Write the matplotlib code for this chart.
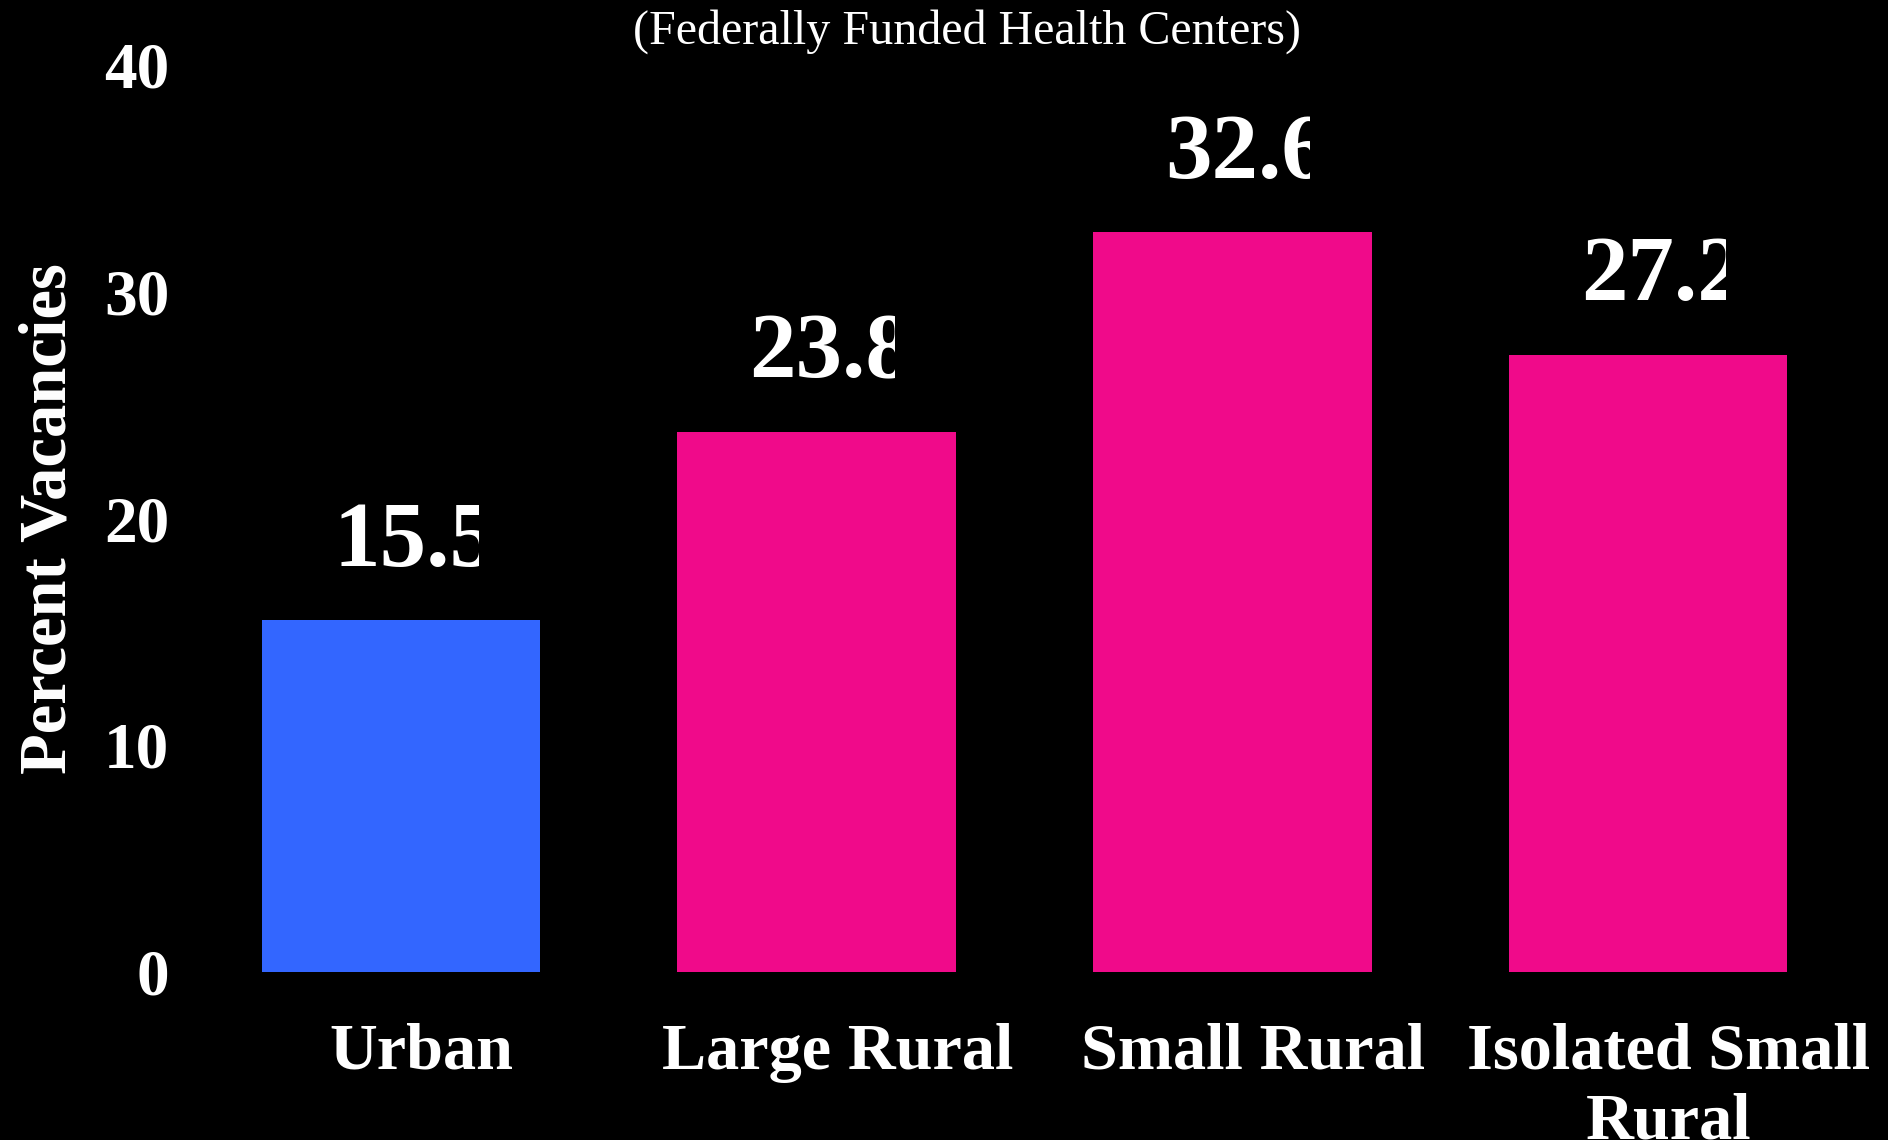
import matplotlib
matplotlib.use("Agg")
import matplotlib.pyplot as plt
from matplotlib.transforms import Bbox, TransformedBbox

categories = ["Urban", "Large Rural", "Small Rural", "Isolated Small\nRural"]
values = [15.5, 23.8, 32.6, 27.2]
colors = ["#3366FF", "#F00A8A", "#F00A8A", "#F00A8A"]
yticks = [0, 10, 20, 30, 40]

plt.rcParams["font.family"] = ["Liberation Serif", "DejaVu Serif"]

fig = plt.figure(figsize=(18.88, 11.40), dpi=100, facecolor="black")
ax = fig.add_axes([0.1022, 0.1478, 0.8808, 0.7955])
ax.set_facecolor("black")

x = list(range(len(categories)))
ax.bar(x, values, width=0.67, color=colors)

# value labels, clipped on the right like the original text boxes
for xi, v in zip(x, values):
    t = ax.text(xi + 0.035, v + 2.4, f"{v:.1f}", ha="center", va="baseline",
                color="white", fontsize=67, fontweight="bold", clip_on=True)
    box = Bbox([[xi - 0.5, v], [xi + 0.188, v + 12]])
    t.set_clip_box(TransformedBbox(box, ax.transData))

ax.set_xlim(-0.5, 3.5)
ax.set_ylim(0, 40)
ax.set_yticks(yticks)
ax.set_yticklabels([str(t) for t in yticks], fontsize=47, fontweight="bold",
                   color="white")
ax.set_xticks([xi + 0.05 for xi in x])
ax.set_xticklabels(categories, fontsize=47.7, fontweight="bold", color="white",
                   linespacing=1.2)
ax.tick_params(axis="both", length=0)
ax.tick_params(axis="y", pad=17)
ax.tick_params(axis="x", pad=37)
for s in ax.spines.values():
    s.set_visible(False)

ax.set_ylabel("Percent Vacancies", fontsize=48, fontweight="bold",
              color="white")
ax.yaxis.set_label_coords(-0.068, 0.5)

fig.text(0.512, 0.962, "(Federally Funded Health Centers)", ha="center",
         va="baseline", fontsize=34.6, color="white")

fig.savefig("out.png", dpi=100, facecolor="black")
